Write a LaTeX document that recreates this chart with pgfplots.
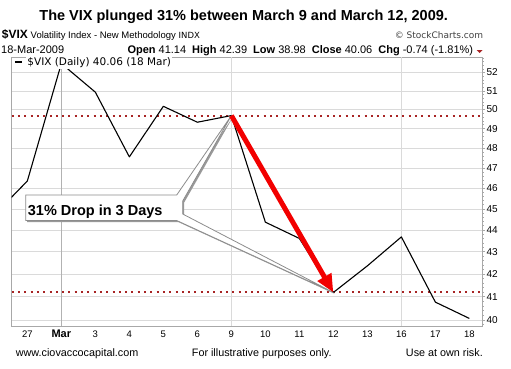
\documentclass[border=0pt]{standalone}
\usepackage{fontspec}
\setmainfont{Liberation Sans}
\newfontfamily\dejavu{DejaVu Sans}
\usepackage{pgfplots}
\pgfplotsset{compat=1.18}
\usetikzlibrary{arrows.meta}
\definecolor{dotred}{HTML}{A82424}
\definecolor{gridgray}{HTML}{DADADA}
\definecolor{axgray}{HTML}{A8A8A8}
\definecolor{callgray}{HTML}{8C8C8C}
\definecolor{arrowred}{HTML}{F20000}
\begin{document}
\begin{tikzpicture}[x=1pt,y=1pt]
\useasboundingbox (-11.7,-42) rectangle (499.3,326);
\begin{axis}[
  at={(0,0)}, anchor=south west,
  scale only axis, width=470.6pt, height=268.7pt,
  ymode=log, ymin=39.75, ymax=52.85,
  xmin=-0.46, xmax=13.38,
  xtick={0,...,13},
  xticklabels={27,{\fontsize{11}{11}\selectfont\bfseries Mar},3,4,5,6,9,10,11,12,13,16,17,18},
  ytick={40,41,...,52},
  yticklabels={40,41,42,43,44,45,46,47,48,49,50,51,52},
  minor ytick={39.8,40.0,...,52.8},
  ytick pos=right, yticklabel pos=right,
  xtick pos=bottom,
  tick align=outside,
  x tick style={draw=none},
  y tick style={axgray, line width=0.6pt},
  major tick length=3pt, minor tick length=1.5pt,
  ymajorgrids, major grid style={gridgray, line width=0.6pt},
  axis line style={axgray, line width=0.8pt},
  tick label style={font=\fontsize{9.5}{10}\selectfont},
  yticklabel style={font=\fontsize{10}{10}\selectfont, inner sep=1pt},
  xticklabel style={anchor=base, yshift=-8.7pt},
]
\draw[gridgray, line width=0.6pt] (axis cs:6,39.75) -- (axis cs:6,52.85);
\draw[gridgray, line width=0.6pt] (axis cs:11,39.75) -- (axis cs:11,52.85);
\draw[black!30, line width=0.6pt] (axis cs:1,39.75) -- (axis cs:1,52.85);
\addplot[dotred, line width=2pt, dash pattern=on 2pt off 4.3pt] coordinates {(-0.46,49.68) (13.38,49.68)};
\addplot[dotred, line width=2pt, dash pattern=on 2pt off 4.3pt] coordinates {(-0.46,41.18) (13.38,41.18)};
\addplot[black, line width=1.1pt, line join=round] coordinates {
(-1,44.66) (0,46.35) (1,52.5) (2,50.93) (3,47.55) (4,50.17) (5,49.33) (6,49.68)
(7,44.37) (8,43.61) (9,41.18) (10,42.36) (11,43.68) (12,40.76) (13,40.06)};
\coordinate (T1) at (axis cs:6,49.68);
\coordinate (T2) at (axis cs:9,41.18);
\end{axis}
% legend
\node[anchor=base west, inner sep=1pt, fill=white, font=\dejavu\fontsize{10.5}{11}\selectfont] at (14.5,260.5) {\$VIX (Daily) 40.06 (18 Mar)};
\draw[black, line width=2pt] (3.3,264.5) -- (10,264.5);
% callout
\path[fill=black!40] (15.5,129.5) -- (166.5,129.5) -- ([xshift=1.5pt,yshift=-1.5pt]T1) -- (172.5,123.5) -- (172.5,110.5) -- ([xshift=1.5pt,yshift=-1.5pt]T2) -- (166.5,104) -- (15.5,104) -- cycle;
\path[fill=white, draw=callgray, line width=0.8pt] (14,131) -- (165,131) -- (T1) -- (171,125) -- (171,112) -- (T2) -- (165,105.5) -- (14,105.5) -- cycle;
\node[anchor=base west, inner sep=0, font=\fontsize{14.5}{15}\selectfont\bfseries] at (16,111) {31\% Drop in 3 Days};
\draw[arrowred, line width=5pt, -{Triangle[length=18pt, width=15pt]}] (T1) -- (T2);
% header
\node[anchor=base, inner sep=0, font=\fontsize{14.5}{15}\selectfont\bfseries] at (232,305.5) {The VIX plunged 31\% between March 9 and March 12, 2009.};
\node[anchor=base west, inner sep=0] at (-10,287.7) {{\bfseries\fontsize{12}{12}\selectfont\$VIX} {\fontsize{9.5}{10}\selectfont Volatility Index - New Methodology}\ {\dejavu\fontsize{8.5}{9}\selectfont INDX}};
\node[anchor=base east, inner sep=0, font=\dejavu\fontsize{9}{9}\selectfont, text=black!75] at (471.6,287.7) {© StockCharts.com};
\node[anchor=base west, inner sep=0, font=\fontsize{11}{11}\selectfont] at (-10.7,272.7) {18-Mar-2009};
\node[anchor=base east, inner sep=0, font=\fontsize{11}{11}\selectfont] at (461.6,272.7) {\textbf{Open} 41.14\hspace{6pt}\textbf{High} 42.39\hspace{6pt}\textbf{Low} 38.98\hspace{6pt}\textbf{Close} 40.06\hspace{6pt}\textbf{Chg} -0.74 (-1.81\%)};
\fill[dotred] (465,276) -- (471,276) -- (468,273) -- cycle;
% footer
\node[anchor=base west, inner sep=0, font=\fontsize{10.8}{11}\selectfont] at (4,-30) {www.ciovaccocapital.com};
\node[anchor=base west, inner sep=0, font=\fontsize{10.8}{11}\selectfont] at (180,-30) {For illustrative purposes only.};
\node[anchor=base east, inner sep=0, font=\fontsize{10.8}{11}\selectfont] at (471.3,-30) {Use at own risk.};
\end{tikzpicture}
\end{document}
